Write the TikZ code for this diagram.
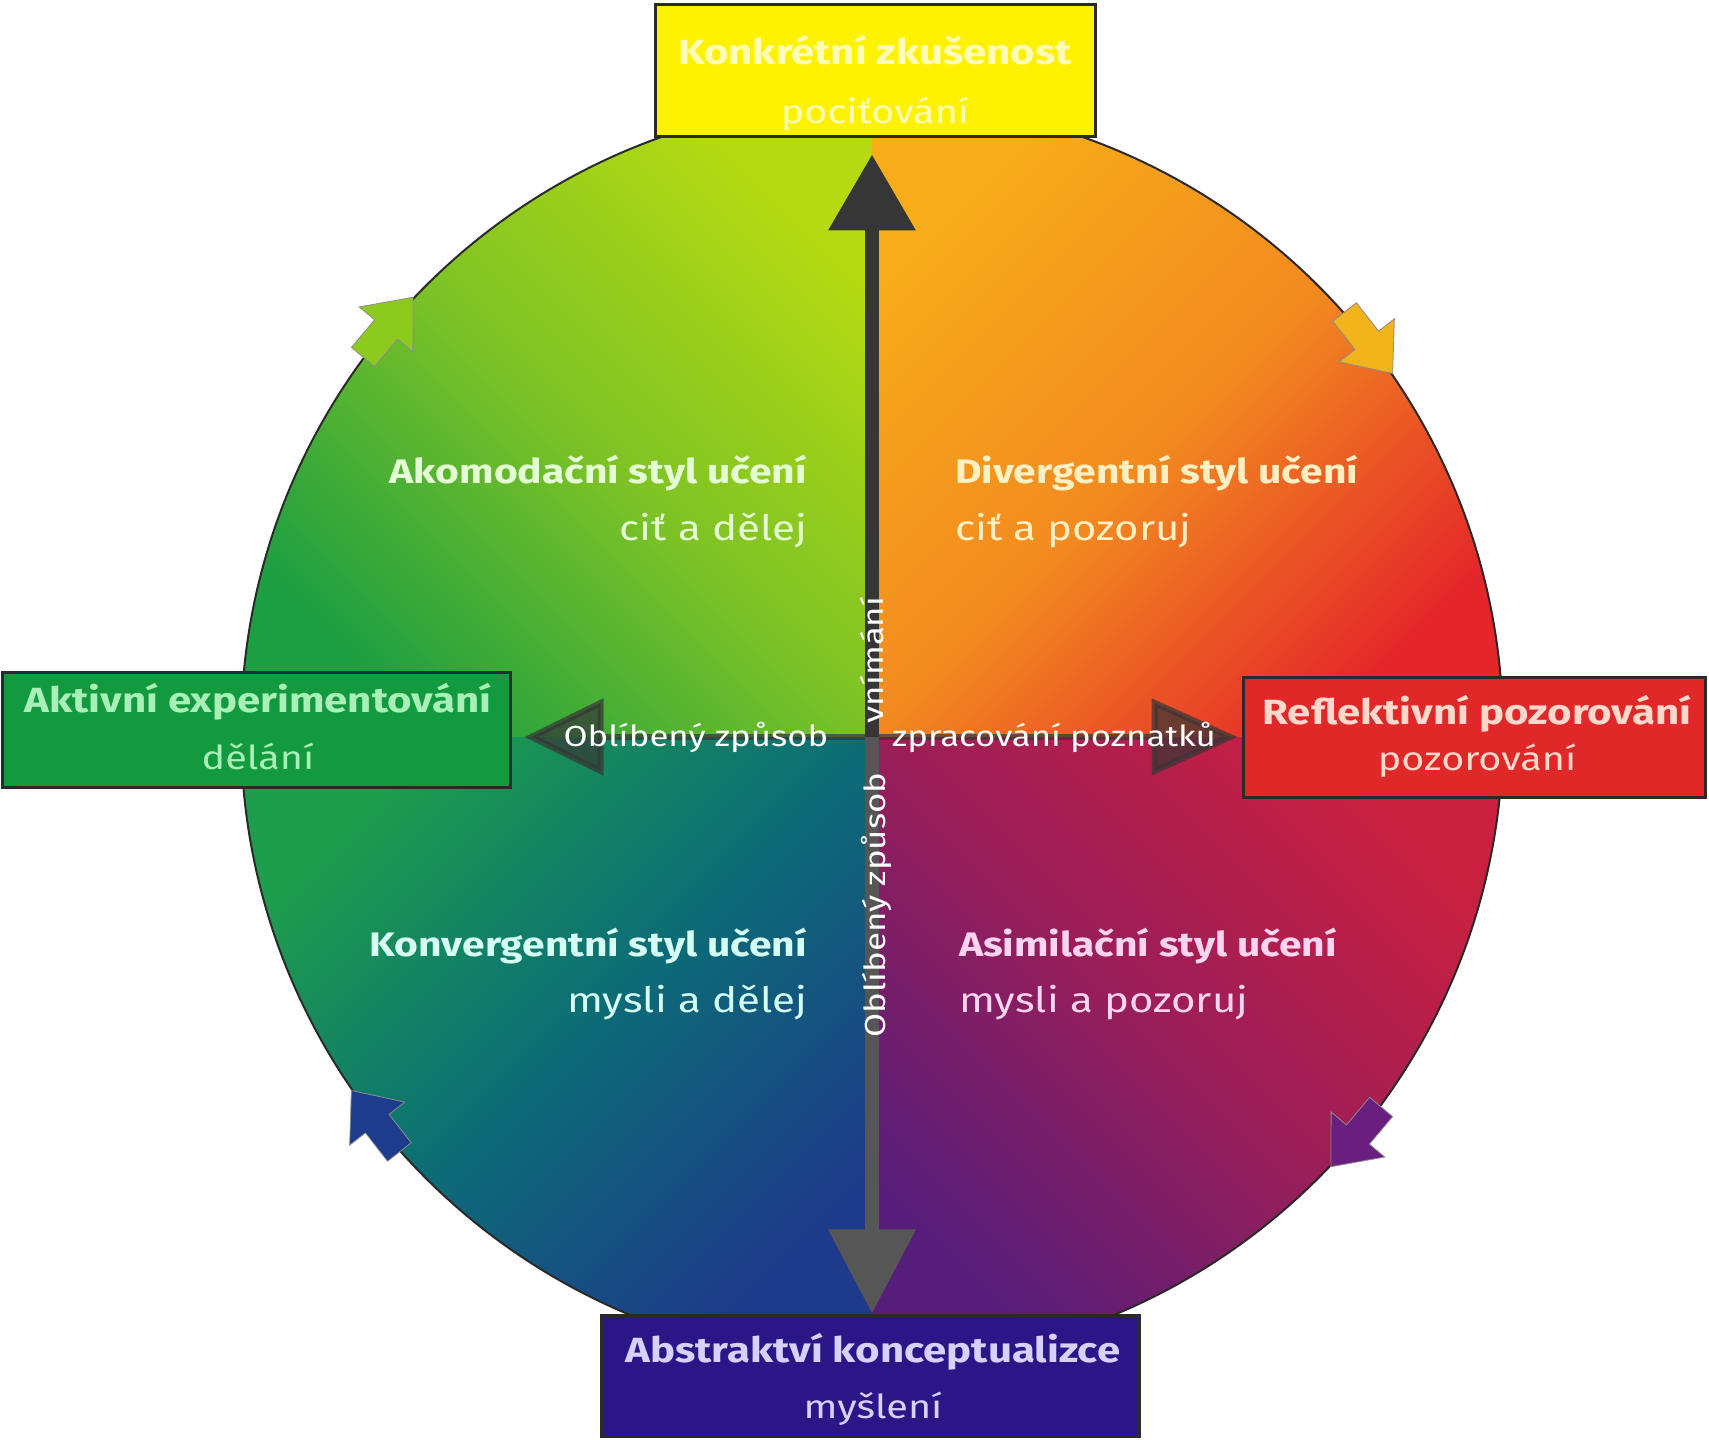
\documentclass[tikz,border=0pt]{standalone}
\usepackage{fontspec}
\setmainfont[FakeStretch=1.2]{Fira Sans}
\usetikzlibrary{arrows.meta,calc}
\definecolor{trY}{HTML}{F7AC1A}
\definecolor{trM}{HTML}{F28A20}
\definecolor{trR}{HTML}{E4262A}
\definecolor{tlY}{HTML}{B6DA12}
\definecolor{tlM}{HTML}{7CC226}
\definecolor{tlG}{HTML}{1C9E42}
\definecolor{blG}{HTML}{1E9E4C}
\definecolor{blM}{HTML}{0C6C76}
\definecolor{blN}{HTML}{1E3A8A}
\definecolor{brC}{HTML}{CA2040}
\definecolor{brM}{HTML}{9A1E58}
\definecolor{brP}{HTML}{561E7A}
\definecolor{boxYel}{HTML}{FFF200}
\definecolor{boxGrn}{HTML}{139A3E}
\definecolor{boxRed}{HTML}{E02828}
\definecolor{boxPur}{HTML}{2B1688}
\definecolor{txGrn}{HTML}{A8F0B8}
\definecolor{txRed}{HTML}{FFD8CC}
\definecolor{txPur}{HTML}{D8D0FF}
\definecolor{txYel}{HTML}{FFFCB8}
\definecolor{qAk}{HTML}{E4FFD4}
\definecolor{qDv}{HTML}{FFF0C4}
\definecolor{qKv}{HTML}{D4FFF2}
\definecolor{qAs}{HTML}{FFD4F0}
\definecolor{axDark}{HTML}{363636}
\definecolor{axMid}{HTML}{565656}
\definecolor{edge}{HTML}{2A2A2A}
\definecolor{arTL}{HTML}{8CCB1E}
\definecolor{arTR}{HTML}{F2B41A}
\definecolor{arBR}{HTML}{6A1E80}
\definecolor{arBL}{HTML}{1E3C8C}
\tikzset{
  framebox/.style={rectangle, draw=edge, line width=3pt, inner sep=0pt},
  boxtitle/.style={anchor=base, inner sep=0pt, font=\fontsize{35}{35}\selectfont\bfseries},
  boxsub/.style={anchor=base, inner sep=0pt, font=\fontsize{33}{33}\selectfont},
  qtitle/.style={inner sep=0pt, font=\fontsize{34}{34}\selectfont\bfseries},
  qsub/.style={inner sep=0pt, font=\fontsize{35}{35}\selectfont},
  axlabel/.style={inner sep=0pt, text=white, font=\fontsize{29}{29}\selectfont},
  cyclearrow/.style={draw=black!45, line width=0.8pt},
}
\begin{document}
\begin{tikzpicture}[x=1pt,y=1pt]
\useasboundingbox (0,0) rectangle (1709,1440);
\fill[white] (0,0) rectangle (1709,1440);
\coordinate (c0) at (872,708);
\coordinate (c) at (872,703);
% quadrant gradients
\begin{scope}
\clip (c0) circle (631);
\shade[top color=trY, bottom color=trR, middle color=trM, shading angle=45] (872,702) rectangle (1504,1340);
\shade[top color=tlY, bottom color=tlG, middle color=tlM, shading angle=-45] (240,702) rectangle (872,1340);
\shade[top color=blG, bottom color=blN, middle color=blM, shading angle=45] (240,76) rectangle (872,702);
\shade[top color=brC, bottom color=brP, middle color=brM, shading angle=-45] (872,76) rectangle (1504,702);
\end{scope}
\draw[edge, line width=2pt] (c0) circle (631);
% cycle arrows on the rim
\foreach \ang/\col in {140/arTL, 38/arTR, 320/arBR, 218/arBL}{
  \begin{scope}[shift={($(c0)+(\ang:631)$)}, rotate=\ang-90]
    \fill[\col, cyclearrow] (-40,-15) -- (-4,-15) -- (-4,-35) -- (38,0) -- (-4,35) -- (-4,15) -- (-40,15) -- cycle;
  \end{scope}
}
% boxes
\node[framebox, fill=boxYel, minimum width=440pt, minimum height=132pt] (top) at (875,1369) {};
\node[framebox, fill=boxGrn, minimum width=508pt, minimum height=115pt] (left) at (256,709.5) {};
\node[framebox, fill=boxRed, minimum width=462pt, minimum height=120pt] (right) at (1474,702) {};
\node[framebox, fill=boxPur, minimum width=538pt, minimum height=121pt] (bottom) at (870,63.5) {};
% axes
\draw[axDark, line width=14pt, -{Triangle[length=76pt,width=84pt]}, shorten >=16pt] (c) -- (top.south -| c);
\draw[axMid, line width=14pt, -{Triangle[length=84pt,width=84pt]}, shorten >=1pt] (c) -- (bottom.north -| c);
\draw[axDark, opacity=0.7, line width=6pt, -{Triangle[length=79pt,width=76pt]}, shorten >=13pt] ([xshift=-7pt]c) -- (left.east |- c);
\draw[axDark, opacity=0.7, line width=6pt, -{Triangle[length=86pt,width=76pt]}, shorten >=4pt] ([xshift=7pt]c) -- (right.west |- c);
% box texts
\node[boxtitle, text=txYel] (topT) at (875,1375) {Konkrétní zkušenost};
\node[boxsub, text=txYel] (topS) at (875,1316) {pociťování};
\node[boxtitle, text=txGrn] (leftT) at (258,727) {Aktivní experimentování};
\node[boxsub, text=txGrn] (leftS) at (258,670) {dělání};
\node[boxtitle, text=txRed] (rightT) at (1477,715) {Reflektivní pozorování};
\node[boxsub, text=txRed] (rightS) at (1477,669) {pozorování};
\node[boxtitle, text=txPur] (botT) at (873,77) {Abstraktví konceptualizce};
\node[boxsub, text=txPur] (botS) at (873,21) {myšlení};
% quadrant texts
\node[qtitle, anchor=base east, text=qAk] (akT) at (807,956) {Akomodační styl učení};
\node[qsub, anchor=base east, text=qAk] (akS) at (807,899) {ciť a dělej};
\node[qtitle, anchor=base west, text=qDv] (dvT) at (955,956) {Divergentní styl učení};
\node[qsub, anchor=base west, text=qDv] (dvS) at (955,899) {ciť a pozoruj};
\node[qtitle, anchor=base east, text=qKv] (kvT) at (807,483) {Konvergentní styl učení};
\node[qsub, anchor=base east, text=qKv] (kvS) at (807,427) {mysli a dělej};
\node[qtitle, anchor=base west, text=qAs] (asT) at (959,483) {Asimilační styl učení};
\node[qsub, anchor=base west, text=qAs] (asS) at (959,427) {mysli a pozoruj};
% axis labels
\node[axlabel, anchor=base] (hl) at (696,693) {Oblíbený způsob};
\node[axlabel, anchor=base] (hr) at (1054,693) {zpracování poznatků};
\node[axlabel, rotate=90] (vu) at (872,780) {vnímání};
\node[axlabel, rotate=90] (vd) at (876,535) {Oblíbený způsob};
\end{tikzpicture}
\end{document}
